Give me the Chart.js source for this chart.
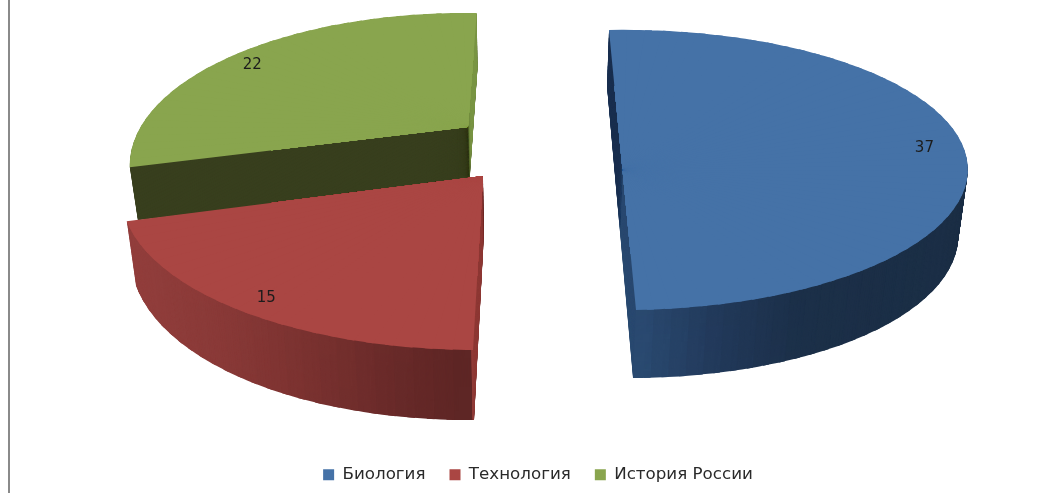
<!DOCTYPE html>
<html>
<head>
<meta charset="utf-8">
<style>
  html, body { margin: 0; padding: 0; background: #fff; overflow: hidden; }
  #wrap { position: relative; width: 1048px; height: 493px; }
  #frame { position: absolute; left: 8px; top: 0; width: 2px; height: 493px; background: #8a8a8a; }
</style>
<script src="https://cdn.jsdelivr.net/npm/chart.js@4/dist/chart.umd.min.js"></script>
</head>
<body>
<div id="wrap">
  <canvas id="pie" width="1048" height="493"></canvas>
  <div id="frame"></div>
</div>
<script>
// Chart data
const categories = ['Биология', 'Технология', 'История России'];
const values = [37, 15, 22];
const topColors = ['#4572a7', '#aa4643', '#89a54e'];

// Side colours of each slice, by screen x
const wallStops = [
  [[636, [43, 75, 114]], [720, [34, 57, 90]], [800, [28, 48, 73]], [968, [27, 46, 69]]],
  [[130, [146, 62, 60]], [220, [138, 58, 56]], [300, [124, 51, 49]], [400, [104, 42, 41]], [475, [92, 37, 36]]],
  [[100, [56, 63, 30]], [480, [56, 63, 30]]]
];
const cutColors = ['#1b3050', '#8f3a36', '#7b9646'];
const cutAtStart = [true, true, false];

// Top and bottom plate of each exploded slice: centre, axes, perspective g
const topViews = [
  { cx: 622.5, cy: 170, xx: 345, xy: -6, dx: 13.5, dy: 140, g: 0 },
  { cx: 483, cy: 176, xx: 359, xy: 2.1, dx: -9, dy: 156.6, g: 0.1 },
  { cx: 468, cy: 127, xx: 324.5, xy: 4.7, dx: -10.9, dy: 142.5, g: 0.25 }
];
const bottomViews = [
  { cx: 620, cy: 232, xx: 338, xy: -2, dx: 13, dy: 146, g: 0 },
  { cx: 484, cy: 232, xx: 350.7, xy: -2.2, dx: -9, dy: 169.2, g: 0.1 },
  { cx: 469.5, cy: 181, xx: 318.4, xy: 5.2, dx: -10, dy: 141.25, g: 0.25 }
];

// Label placement along the slice middle, then a small lift on screen
const labelRadius = [0.875, 0.91, 0.97];
const labelShift = [-17, 0, 13];

const drawOrder = [2, 0, 1];
const depthSteps = 70;
const wedgeAngle = Math.PI / 60;

function mix(a, b, t) {
  const out = {};
  Object.keys(a).forEach(k => { out[k] = a[k] + (b[k] - a[k]) * t; });
  return out;
}

// Same plate, only the part up to a fraction of the radius
function innerPart(v, f) {
  return { cx: v.cx, cy: v.cy, xx: v.xx * f, xy: v.xy * f, dx: v.dx * f, dy: v.dy * f, g: v.g * f };
}

// Point of the tilted plate for a point (u, v) of the unit disc
function project(v, u, w) {
  const den = 1 - v.g * w;
  return [(v.xx * u + v.dx * w) / den, (v.xy * u + v.dy * w) / den];
}

// Draw part of an arc element on the plate, as one affine piece
function drawPiece(ctx, el, view, fill, a, b, over) {
  const copy = Object.create(el);
  copy.options = { ...el.options, backgroundColor: fill, borderWidth: 0 };
  copy.startAngle = a;
  copy.endAngle = b + over;
  copy.circumference = b + over - a;

  const ca = Math.cos(a), sa = Math.sin(a), cb = Math.cos(b), sb = Math.sin(b);
  const pa = project(view, ca, sa);
  const pb = project(view, cb, sb);
  const det = ca * sb - cb * sa;
  const m = [
    (pa[0] * sb - pb[0] * sa) / det, (pa[1] * sb - pb[1] * sa) / det,
    (pb[0] * ca - pa[0] * cb) / det, (pb[1] * ca - pa[1] * cb) / det
  ];
  const r = el.outerRadius;
  ctx.save();
  ctx.transform(m[0] / r, m[1] / r, m[2] / r, m[3] / r,
    view.cx - (m[0] * el.x + m[2] * el.y) / r,
    view.cy - (m[1] * el.x + m[3] * el.y) / r);
  copy.draw(ctx);
  ctx.restore();
}

function wallColor(i, x) {
  const stops = wallStops[i];
  let k = 0;
  while (k < stops.length - 2 && x > stops[k + 1][0]) k++;
  const t = Math.min(1, Math.max(0, (x - stops[k][0]) / (stops[k + 1][0] - stops[k][0])));
  const c = stops[k][1].map((n, j) => Math.round(n + (stops[k + 1][1][j] - n) * t));
  return `rgb(${c[0]},${c[1]},${c[2]})`;
}

function pieces(el) {
  const n = Math.max(1, Math.ceil((el.endAngle - el.startAngle) / wedgeAngle));
  const list = [];
  for (let k = 0; k < n; k++) {
    const a = el.startAngle + (el.endAngle - el.startAngle) * k / n;
    const b = el.startAngle + (el.endAngle - el.startAngle) * (k + 1) / n;
    list.push({ a, b, over: k < n - 1 ? 0.02 : 0 });
  }
  return list;
}

const tiltedPie = {
  id: 'tiltedPie',
  beforeDatasetsDraw(chart) {
    const ctx = chart.ctx;
    const arcs = chart.getDatasetMeta(0).data;

    drawOrder.forEach(i => {
      const el = arcs[i];
      const list = pieces(el);
      const top = topViews[i];

      // outer wall and cut face
      for (let s = depthSteps; s > 0; s--) {
        const view = mix(topViews[i], bottomViews[i], s / depthSteps);
        list.forEach(p => {
          const h = (p.a + p.b) / 2;
          const x = view.cx + project(view, Math.cos(h), Math.sin(h))[0];
          drawPiece(ctx, el, view, wallColor(i, x), p.a, p.b, p.over);
        });
      }

      // thin wedge along the cut edge, shown as the narrow side face
      const wedge = cutAtStart[i]
        ? [el.startAngle, el.startAngle + 0.004]
        : [el.endAngle - 0.004, el.endAngle];
      for (let s = depthSteps; s > 0; s--) {
        const view = mix(topViews[i], bottomViews[i], s / depthSteps);
        drawPiece(ctx, el, view, cutColors[i], wedge[0], wedge[1], 0);
      }

      // top face, the middle painted a few times so the piece joins stay closed
      for (let pass = 0; pass < 14; pass++) {
        const inner = innerPart(top, 0.6);
        list.forEach(p => drawPiece(ctx, el, inner, topColors[i], p.a, p.b, p.over));
      }
      list.forEach(p => drawPiece(ctx, el, top, topColors[i], p.a, p.b, p.over));
    });

    // value labels
    ctx.save();
    ctx.font = '15px "DejaVu Sans"';
    ctx.fillStyle = '#1c1c1c';
    ctx.textAlign = 'center';
    ctx.textBaseline = 'middle';
    arcs.forEach((el, i) => {
      const h = (el.startAngle + el.endAngle) / 2;
      const v = topViews[i];
      const p = project(v, Math.cos(h) * labelRadius[i], Math.sin(h) * labelRadius[i]);
      ctx.fillText(String(values[i]), v.cx + p[0], v.cy + p[1] + labelShift[i]);
    });
    ctx.restore();
    return false;
  }
};

new Chart(document.getElementById('pie'), {
  type: 'pie',
  data: {
    labels: categories,
    datasets: [{ data: values, backgroundColor: topColors, borderWidth: 0 }]
  },
  options: {
    responsive: false,
    animation: false,
    layout: { padding: { left: 28 } },
    plugins: {
      tooltip: { enabled: false },
      legend: {
        position: 'bottom',
        labels: {
          boxWidth: 11,
          boxHeight: 11,
          padding: 24,
          color: '#2a2a2a',
          font: { family: '"DejaVu Sans"', size: 16.7 }
        }
      }
    }
  },
  plugins: [tiltedPie]
});
</script>
</body>
</html>
